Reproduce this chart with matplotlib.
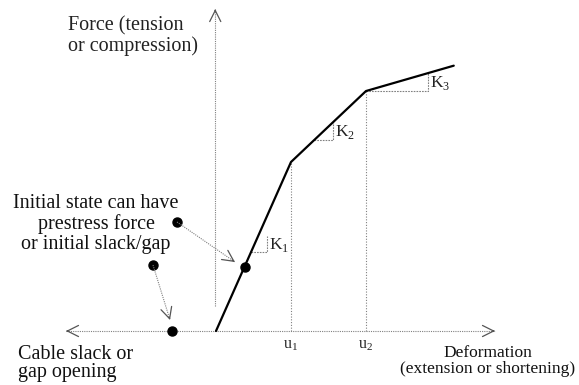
import matplotlib
matplotlib.use('Agg')
import matplotlib.pyplot as plt

plt.rcParams['font.family'] = 'Liberation Serif'
plt.rcParams['mathtext.fontset'] = 'custom'
plt.rcParams['mathtext.rm'] = 'Liberation Serif'

# multilinear force-deformation curve (u = deformation, F = force)
curve_u = [0.0, 1.0, 2.0, 3.17]
curve_F = [0.0, 1.0, 1.42, 1.57]
u_marks = [1.0, 2.0]
u_labels = [r'$\mathrm{u}_1$', r'$\mathrm{u}_2$']
F_at_marks = [1.0, 1.42]

# slope triangles: (u_start, u_end, F_base, F_top, label)
k_u0 = [0.467, 1.31, 2.0]
k_u1 = [0.68, 1.56, 2.83]
k_F0 = [0.467, 1.13, 1.42]
k_F1 = [0.56, 1.235, 1.526]
k_labels = [r'$\mathrm{K}_1$', r'$\mathrm{K}_2$', r'$\mathrm{K}_3$']

# state points
state_u = [0.387, -0.587]
state_F = [0.38, 0.0]
note_u = [-0.52, -0.84]
note_F = [0.645, 0.39]
tip_u = [0.253, -0.613]
tip_F = [0.408, 0.065]

grey = '#808080'

fig = plt.figure(figsize=(5.79, 3.85), dpi=100)
ax = fig.add_axes([0, 0, 1, 1])
ax.set_xlim(-2.88, 4.84)
ax.set_ylim(-0.3195, 1.9586)
ax.axis('off')


def arrow_head(x, y, dx, dy):
    ax.annotate('', xy=(x, y), xytext=(x - dx, y - dy),
                arrowprops=dict(arrowstyle='->,head_length=0.8,head_width=0.4',
                                color='#555555', lw=0.9, shrinkA=0, shrinkB=0))


# axes
ax.plot([-2.0, 3.72], [0, 0], ls=(0, (1, 1)), color=grey, lw=0.8)
arrow_head(-2.0, 0, -0.02, 0)
arrow_head(3.72, 0, 0.02, 0)
ax.plot([-0.01, -0.01], [0.15, 1.905], ls=(0, (1, 1)), color=grey, lw=0.8)
arrow_head(-0.01, 1.905, 0, 0.01)

# u1, u2 guides
for u, F, lab in zip(u_marks, F_at_marks, u_labels):
    ax.plot([u, u], [0, F], ls=(0, (1, 1.5)), color=grey, lw=0.8)
    ax.text(u, -0.083, lab, ha='center', va='center', fontsize=11.5, color='#222222')

# slope triangles
for a, b, f0, f1, lab in zip(k_u0, k_u1, k_F0, k_F1, k_labels):
    ax.plot([a, b, b], [f0, f0, f1], ls=(0, (1.5, 1)), color=grey, lw=0.8)
    ax.text(b + 0.02, (f0 + f1) / 2 - 0.005, lab, ha='left', va='center',
            fontsize=12.5, color='#222222')

# curve
ax.plot(curve_u, curve_F, color='black', lw=1.6, solid_capstyle='round')

# state dots and pointers
ax.plot(state_u, state_F, 'o', color='black', ms=6.5)
ax.plot(note_u, note_F, 'o', color='black', ms=6.5)
for nu, nf, tu, tf in zip(note_u, note_F, tip_u, tip_F):
    ax.plot([nu, tu], [nf, tf], ls=(0, (1, 1)), color=grey, lw=0.8)
    arrow_head(tu, tf, (tu - nu) * 0.05, (tf - nf) * 0.05)

# texts
ax.text(-1.973, 1.86, 'Force (tension\nor compression)', ha='left', va='top',
        fontsize=14.5, linespacing=1.0, color='#222222')
ax.text(-1.60, 0.81, 'Initial state can have\nprestress force\nor initial slack/gap',
        ha='center', va='top', multialignment='center', fontsize=14.5,
        linespacing=1.08, color='#111111')
ax.text(-2.64, -0.082, 'Cable slack or\ngap opening', ha='left', va='top',
        fontsize=14.5, linespacing=0.95, color='#111111')
ax.text(3.62, -0.082, 'Deformation\n(extension or shortening)', ha='center', va='top',
        multialignment='center', fontsize=12.5, linespacing=1.0, color='#111111')

fig.savefig('out.png', dpi=100)
